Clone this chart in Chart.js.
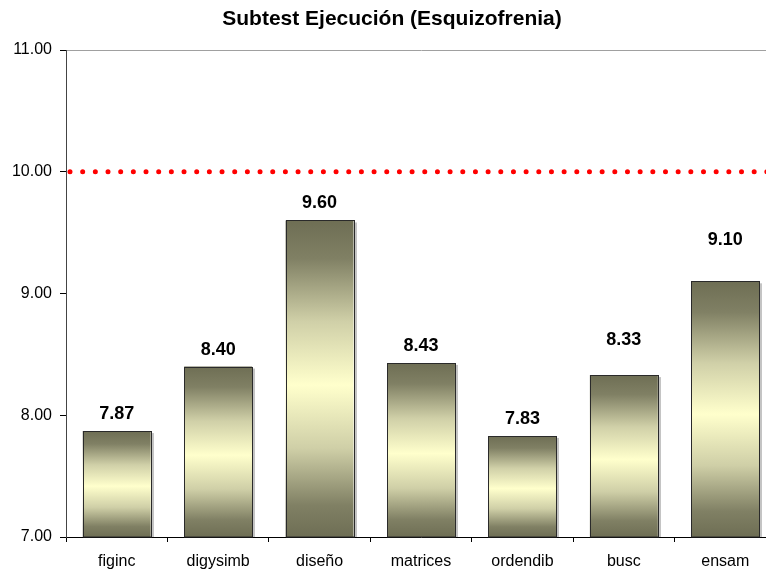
<!DOCTYPE html>
<html>
<head>
<meta charset="utf-8">
<script src="https://cdn.jsdelivr.net/npm/chart.js@4.4.1/dist/chart.umd.min.js"></script>
<style>
  html, body { margin: 0; padding: 0; background: #ffffff; overflow: hidden; }
  #wrap { width: 776px; height: 571px; position: relative; }
</style>
</head>
<body>
<div id="wrap"><canvas id="c"></canvas></div>
<script>
// Subtest scores, schizophrenia group
const categories = ['figinc', 'digysimb', 'diseño', 'matrices', 'ordendib', 'busc', 'ensam'];
const scores = [7.87, 8.40, 9.60, 8.43, 7.83, 8.33, 9.10];
const referenceLevel = 10;
const yTicks = [7, 8, 9, 10, 11];
const chartTitle = 'Subtest Ejecución (Esquizofrenia)';

// extra upward shift (px) for a few value labels
const labelLift = [0, 0, 0, 0, 0, 18, 24];

const FONT = 'Arial, "Liberation Sans", Helvetica, sans-serif';

// vertical dark-light-dark fill for each bar
function barFill(ctx) {
  if (ctx.type !== 'data') return '#c8c8a0';
  const chart = ctx.chart;
  const y = chart.scales.y;
  if (!y) return '#c8c8a0';
  const top = y.getPixelForValue(ctx.raw);
  const bottom = y.getPixelForValue(y.min);
  if (!isFinite(top) || !isFinite(bottom) || top === bottom) return '#c8c8a0';
  const g = chart.ctx.createLinearGradient(0, top, 0, bottom);
  g.addColorStop(0, '#6e6e54');
  g.addColorStop(0.12, '#808064');
  g.addColorStop(0.32, '#d0d0a8');
  g.addColorStop(0.52, '#ffffcc');
  g.addColorStop(0.72, '#cfcfa7');
  g.addColorStop(0.9, '#808064');
  g.addColorStop(1, '#6e6e54');
  return g;
}

const titlePlugin = {
  id: 'topTitle',
  afterDraw(chart) {
    const c = chart.ctx;
    c.save();
    c.font = 'bold 21px ' + FONT;
    c.fillStyle = '#000';
    c.textAlign = 'center';
    c.textBaseline = 'middle';
    c.fillText(chartTitle, 392, 19);
    c.restore();
  }
};

// light drop shadow on the right of each bar
const shadowPlugin = {
  id: 'barShadow',
  beforeDatasetsDraw(chart) {
    const meta = chart.getDatasetMeta(0);
    const bottom = chart.chartArea.bottom;
    const c = chart.ctx;
    c.save();
    c.fillStyle = '#c4c4c4';
    meta.data.forEach(el => {
      const p = el.getProps(['x', 'y', 'width'], true);
      c.fillRect(Math.round(p.x + p.width / 2) + 1, p.y + 2, 2, bottom - p.y - 2);
    });
    c.restore();
  }
};

// crisp dark outline around each bar
const outlinePlugin = {
  id: 'barOutline',
  afterDatasetsDraw(chart) {
    const meta = chart.getDatasetMeta(0);
    const bottom = chart.chartArea.bottom;
    const c = chart.ctx;
    c.save();
    c.strokeStyle = '#2a2a2a';
    c.lineWidth = 1;
    meta.data.forEach(el => {
      const p = el.getProps(['x', 'y', 'width'], true);
      const l = Math.round(p.x - p.width / 2) + 0.5;
      const r = Math.round(p.x + p.width / 2) + 0.5;
      const t = Math.round(p.y) + 0.5;
      c.strokeRect(l, t, r - l, bottom - t);
    });
    c.restore();
  }
};

const refLinePlugin = {
  id: 'refLine',
  afterDatasetsDraw(chart) {
    const a = chart.chartArea;
    const y = chart.scales.y.getPixelForValue(referenceLevel);
    const c = chart.ctx;
    c.save();
    c.strokeStyle = '#ff0000';
    c.lineWidth = 5;
    c.lineCap = 'round';
    c.setLineDash([0, 12.67]);
    c.beginPath();
    c.moveTo(a.left + 4, y);
    c.lineTo(a.right, y);
    c.stroke();
    c.restore();
  }
};

const valueLabelPlugin = {
  id: 'valueLabels',
  afterDatasetsDraw(chart) {
    const meta = chart.getDatasetMeta(0);
    const c = chart.ctx;
    c.save();
    c.font = 'bold 18px ' + FONT;
    c.fillStyle = '#000';
    c.textAlign = 'center';
    c.textBaseline = 'middle';
    meta.data.forEach((el, i) => {
      const p = el.getProps(['x', 'y'], true);
      c.fillText(scores[i].toFixed(2), p.x, p.y - 17 - labelLift[i]);
    });
    c.restore();
  }
};

new Chart(document.getElementById('c'), {
  type: 'bar',
  data: {
    labels: categories,
    datasets: [{
      data: scores,
      backgroundColor: barFill,
      borderWidth: 0,
      barPercentage: 0.67,
      categoryPercentage: 1
    }]
  },
  options: {
    responsive: true,
    maintainAspectRatio: false,
    animation: false,
    layout: { padding: { top: 50, right: 0, left: 0, bottom: 0 } },
    plugins: {
      legend: { display: false },
      title: { display: false },
      tooltip: { enabled: false }
    },
    scales: {
      x: {
        offset: true,
        grid: {
          offset: true,
          drawOnChartArea: false,
          drawTicks: true,
          tickLength: 5,
          color: '#000'
        },
        border: { color: '#000', width: 1 },
        ticks: {
          color: '#000',
          font: { family: FONT, size: 16 },
          padding: 10,
          maxRotation: 0,
          autoSkip: false
        },
        afterFit(scale) { scale.height = 34; }
      },
      y: {
        min: 7,
        max: 11,
        afterBuildTicks(scale) {
          scale.ticks = yTicks.map(v => ({ value: v }));
        },
        grid: {
          drawOnChartArea: true,
          drawTicks: true,
          tickLength: 6,
          color: ctx => (ctx.tick && ctx.tick.value === 11) ? '#a0a0a0' : 'rgba(0,0,0,0)',
          tickColor: '#000'
        },
        border: { color: '#444', width: 1 },
        ticks: {
          color: '#000',
          font: { family: FONT, size: 16 },
          padding: 8,
          callback: v => Number(v).toFixed(2)
        },
        afterFit(scale) { scale.width = 66; }
      }
    }
  },
  plugins: [titlePlugin, shadowPlugin, outlinePlugin, refLinePlugin, valueLabelPlugin]
});
</script>
</body>
</html>
